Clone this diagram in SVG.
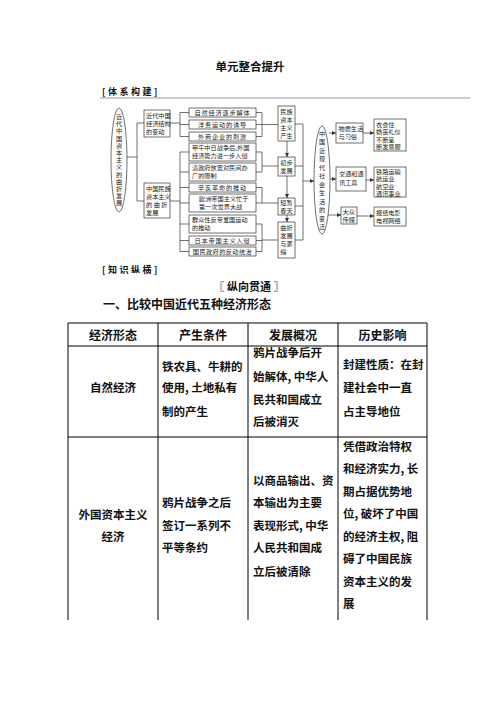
<svg xmlns="http://www.w3.org/2000/svg" width="496" height="702" viewBox="0 0 496 702">
<style>
.bx{fill:#fff;stroke:#333;stroke-width:0.7}
.ln{fill:none;stroke:#333;stroke-width:0.7}
.t{font-family:"Noto Sans CJK SC",sans-serif;font-size:6.2px;fill:#222}
.c{text-anchor:middle}
.h{font-family:"Noto Sans CJK SC",sans-serif;font-weight:bold;fill:#111}
.tb{font-family:"Noto Sans CJK SC",sans-serif;font-weight:bold;font-size:11.5px;fill:#111}
.tl{stroke:#000;stroke-width:1;fill:none}
</style>
<defs>
<marker id="ah" markerUnits="userSpaceOnUse" markerWidth="4" markerHeight="4" refX="4" refY="2" orient="auto"><path d="M0,0 L4,2 L0,4 z" fill="#333"/></marker>
</defs>
<rect width="496" height="702" fill="#fff"/>
<g id="header">
<text class="h" x="250" y="71" text-anchor="middle" font-size="11.5">单元整合提升</text>
<text class="h" x="102" y="95" font-size="9" font-weight="normal" letter-spacing="2.5">[体系构建]</text>
<line x1="100" y1="98" x2="470" y2="98" stroke="#999" stroke-width="1.2"/>
<text class="h" x="102" y="273" font-size="9" font-weight="normal" letter-spacing="2.5">[知识纵横]</text>
<text class="h" x="249" y="291" text-anchor="middle" font-size="11">〖 纵向贯通 〗</text>
<text class="h" x="103" y="309" font-size="12">一、比较中国近代五种经济形态</text>
</g>
<g id="connectors">
<path class="ln" d="M127,157 H137 M137,123 V201 M137,123 H144 M137,201 H144"/>
<path class="ln" d="M170,123 H180 M180,112.5 V136.5 M180,112.5 H189 M180,124.5 H189 M180,136.5 H189"/>
<path class="ln" d="M170,201 H180 M180,152 V251.5 M180,152 H189 M180,172 H189 M180,187.5 H189 M180,203 H189 M180,224 H189 M180,240.5 H189 M180,251.5 H189"/>
<path class="ln" d="M256,112.5 H262 M256,124.5 H262 M256,136.5 H262 M262,112.5 V136.5 M262,124.5 H278"/>
<path class="ln" d="M256,152 H262 M256,172 H262 M262,152 V172 M262,166 H278"/>
<path class="ln" d="M256,187.5 H262 M256,203 H262 M262,187.5 V203 M262,203 H278"/>
<path class="ln" d="M256,224 H262 M256,240.5 H262 M256,251.5 H262 M262,224 V251.5 M262,240 H278"/>
<path class="ln" d="M295,124 H303 M295,166 H303 M295,206 H303 M295,240 H303 M303,124 V240"/>
<path class="ln" marker-end="url(#ah)" d="M287,141 V157"/>
<path class="ln" marker-end="url(#ah)" d="M287,176 V198"/>
<path class="ln" marker-end="url(#ah)" d="M287,215 V222"/>
<path class="ln" marker-end="url(#ah)" d="M303,181 H314"/>
<path class="ln" marker-end="url(#ah)" d="M329,133 H336"/>
<path class="ln" marker-end="url(#ah)" d="M330,179 H336"/>
<path class="ln" marker-end="url(#ah)" d="M328,215 H341"/>
<path class="ln" marker-end="url(#ah)" d="M363,133 H374"/>
<path class="ln" marker-end="url(#ah)" d="M366,180 H374"/>
<path class="ln" marker-end="url(#ah)" d="M357,216 H374"/>
</g>
<g id="n-root">
<ellipse class="bx" cx="119" cy="160" rx="8" ry="52"/>
<text class="t c" font-size="6.5"><tspan x="119" y="119">近</tspan><tspan x="119" y="126.2">代</tspan><tspan x="119" y="133.4">中</tspan><tspan x="119" y="140.6">国</tspan><tspan x="119" y="147.8">资</tspan><tspan x="119" y="155">本</tspan><tspan x="119" y="162.2">主</tspan><tspan x="119" y="169.4">义</tspan><tspan x="119" y="176.6">的</tspan><tspan x="119" y="183.8">曲</tspan><tspan x="119" y="191">折</tspan><tspan x="119" y="198.2">发</tspan><tspan x="119" y="205.4">展</tspan></text>
</g>
<g id="n-structure">
<rect class="bx" x="144" y="110" width="26" height="27"/>
<text class="t"><tspan x="146" y="118">近代中国</tspan><tspan x="146" y="126">经济结构</tspan><tspan x="146" y="134">的变动</tspan></text>
</g>
<g id="n-national">
<rect class="bx" x="144" y="183" width="26" height="35"/>
<text class="t"><tspan x="146" y="191">中国民族</tspan><tspan x="146" y="199">资本主义</tspan><tspan x="146" y="207" letter-spacing="1.5">的曲折</tspan><tspan x="146" y="215">发展</tspan></text>
</g>
<g id="n-m1"><rect class="bx" x="189" y="108" width="67" height="9"/><text class="t c" x="222.5" y="115" letter-spacing="0.8">自然经济逐步解体</text></g>
<g id="n-m2"><rect class="bx" x="189" y="120" width="67" height="9"/><text class="t c" x="222.5" y="127" letter-spacing="0.8">洋务运动的诱导</text></g>
<g id="n-m3"><rect class="bx" x="189" y="132" width="67" height="9"/><text class="t c" x="222.5" y="139" letter-spacing="0.8">外商企业的刺激</text></g>
<g id="n-m4"><rect class="bx" x="189" y="143" width="67" height="18"/><text class="t"><tspan x="192" y="150">甲午中日战争后,外国</tspan><tspan x="192" y="158">经济势力进一步入侵</tspan></text></g>
<g id="n-m5"><rect class="bx" x="189" y="163" width="67" height="18"/><text class="t"><tspan x="192" y="170">清政府放宽对民间办</tspan><tspan x="192" y="178">厂的限制</tspan></text></g>
<g id="n-m6"><rect class="bx" x="189" y="183" width="67" height="9"/><text class="t c" x="222.5" y="190" letter-spacing="0.8">辛亥革命的推动</text></g>
<g id="n-m7"><rect class="bx" x="189" y="194" width="67" height="18"/><text class="t"><tspan x="199" y="201">欧洲帝国主义忙于</tspan><tspan x="199" y="209">第一次世界大战</tspan></text></g>
<g id="n-m8"><rect class="bx" x="189" y="215" width="67" height="18"/><text class="t"><tspan x="192" y="222">群众性反帝爱国运动</tspan><tspan x="192" y="230">的推动</tspan></text></g>
<g id="n-m9"><rect class="bx" x="189" y="236" width="67" height="9"/><text class="t c" x="222.5" y="243" letter-spacing="0.8">日本帝国主义入侵</text></g>
<g id="n-m10"><rect class="bx" x="189" y="247" width="67" height="9"/><text class="t c" x="222.5" y="254" letter-spacing="0.4">国民政府的反动统治</text></g>
<g id="n-birth"><rect class="bx" x="278" y="106" width="17" height="35"/><text class="t"><tspan x="280.3" y="114">民族</tspan><tspan x="280.3" y="122">资本</tspan><tspan x="280.3" y="130">主义</tspan><tspan x="280.3" y="138">产生</tspan></text></g>
<g id="n-early"><rect class="bx" x="278" y="157" width="17" height="19"/><text class="t"><tspan x="280.3" y="165">初步</tspan><tspan x="280.3" y="173">发展</tspan></text></g>
<g id="n-spring"><rect class="bx" x="278" y="198" width="17" height="17"/><text class="t"><tspan x="280.3" y="205">短暂</tspan><tspan x="280.3" y="213">春天</tspan></text></g>
<g id="n-decline"><rect class="bx" x="278" y="222" width="17" height="36"/><text class="t"><tspan x="280.3" y="230">曲折</tspan><tspan x="280.3" y="238">发展</tspan><tspan x="280.3" y="246">与萎</tspan><tspan x="280.3" y="254">缩</tspan></text></g>
<g id="n-society">
<ellipse class="bx" cx="322" cy="180" rx="8" ry="54"/>
<text class="t c" font-size="6.5"><tspan x="322" y="135.5">中</tspan><tspan x="322" y="144">国</tspan><tspan x="322" y="152.5">近</tspan><tspan x="322" y="161">现</tspan><tspan x="322" y="169.5">代</tspan><tspan x="322" y="178">社</tspan><tspan x="322" y="186.5">会</tspan><tspan x="322" y="195">生</tspan><tspan x="322" y="203.5">活</tspan><tspan x="322" y="212">的</tspan><tspan x="322" y="220.5">变</tspan><tspan x="322" y="229">迁</tspan></text>
</g>
<g id="n-life"><rect class="bx" x="336" y="123" width="27" height="20"/><text class="t"><tspan x="338.5" y="131">物质生活</tspan><tspan x="338.5" y="139">与习俗</tspan></text></g>
<g id="n-traffic"><rect class="bx" x="336" y="167" width="30" height="24"/><text class="t"><tspan x="339" y="176">交通和通</tspan><tspan x="339" y="185">讯工具</tspan></text></g>
<g id="n-media"><rect class="bx" x="341" y="207" width="16" height="17"/><text class="t"><tspan x="342.5" y="214">大众</tspan><tspan x="342.5" y="222">传媒</tspan></text></g>
<g id="n-life2"><rect class="bx" x="374" y="119" width="32" height="32"/><text class="t"><tspan x="376" y="126.5">衣食住</tspan><tspan x="376" y="134">婚丧礼仪</tspan><tspan x="376" y="141.5">不断呈</tspan><tspan x="376" y="149">断发易服</tspan></text></g>
<g id="n-traffic2"><rect class="bx" x="374" y="167" width="32" height="30"/><text class="t"><tspan x="376" y="174">铁路运输</tspan><tspan x="376" y="181.3">航运业</tspan><tspan x="376" y="188.6">航空业</tspan><tspan x="376" y="195.5">通讯事业</tspan></text></g>
<g id="n-media2"><rect class="bx" x="374" y="207" width="32" height="19"/><text class="t"><tspan x="376" y="215">报纸电影</tspan><tspan x="376" y="223">电视网络</tspan></text></g>
<g id="table">
<path class="tl" d="M68,323 H427 M68,346 H427 M68,437 H427 M68,323 V620 M158,323 V620 M248,323 V620 M338,323 V620 M427,323 V620"/>
<text class="h" font-size="12" text-anchor="middle"><tspan x="113" y="339.5">经济形态</tspan><tspan x="203" y="339.5">产生条件</tspan><tspan x="293" y="339.5">发展概况</tspan><tspan x="382.5" y="339.5">历史影响</tspan></text>
<text class="tb" x="113" y="392" text-anchor="middle">自然经济</text>
<text class="tb"><tspan x="162" y="371">铁农具、牛耕的</tspan><tspan x="162" y="392">使用, 土地私有</tspan><tspan x="162" y="416">制的产生</tspan></text>
<text class="tb"><tspan x="253" y="357">鸦片战争后开</tspan><tspan x="253" y="381">始解体, 中华人</tspan><tspan x="253" y="404">民共和国成立</tspan><tspan x="253" y="426">后被消灭</tspan></text>
<text class="tb"><tspan x="343" y="369">封建性质：在封</tspan><tspan x="343" y="392">建社会中一直</tspan><tspan x="343" y="416">占主导地位</tspan></text>
<text class="tb" text-anchor="middle"><tspan x="113" y="519">外国资本主义</tspan><tspan x="113" y="541">经济</tspan></text>
<text class="tb"><tspan x="162" y="507">鸦片战争之后</tspan><tspan x="162" y="530">签订一系列不</tspan><tspan x="162" y="552">平等条约</tspan></text>
<text class="tb"><tspan x="253" y="485">以商品输出、资</tspan><tspan x="253" y="507">本输出为主要</tspan><tspan x="253" y="530">表现形式, 中华</tspan><tspan x="253" y="552">人民共和国成</tspan><tspan x="253" y="576">立后被清除</tspan></text>
<text class="tb"><tspan x="343" y="451">凭借政治特权</tspan><tspan x="343" y="473">和经济实力, 长</tspan><tspan x="343" y="496">期占据优势地</tspan><tspan x="343" y="518">位, 破坏了中国</tspan><tspan x="343" y="541">的经济主权, 阻</tspan><tspan x="343" y="563">碍了中国民族</tspan><tspan x="343" y="586">资本主义的发</tspan><tspan x="343" y="608">展</tspan></text>
</g>
</svg>
